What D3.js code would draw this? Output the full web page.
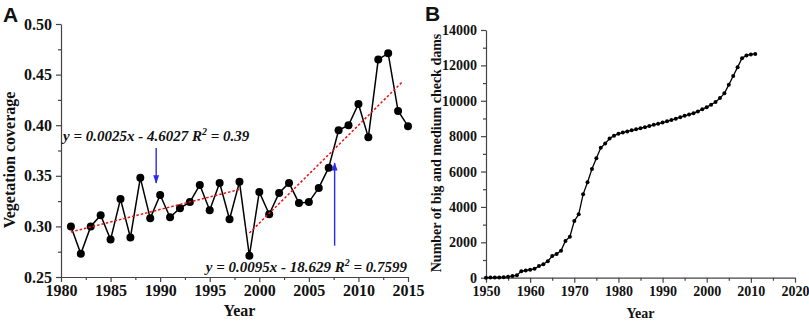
<!DOCTYPE html>
<html>
<head>
<meta charset="utf-8">
<script src="https://cdn.jsdelivr.net/npm/d3@7"></script>
<style>
  body { margin: 0; background: #fff; }
  svg text { font-family: 'Liberation Serif', 'Times New Roman', serif; font-weight: bold; fill: #111; }
</style>
</head>
<body>
<svg id="chart" width="809" height="321"></svg>
<script>
// panel A: vegetation coverage
const yearsA = d3.range(1981, 2016)
const coverage = [
  0.300, 0.273, 0.300, 0.311, 0.287, 0.327, 0.289, 0.348, 0.308, 0.331,
  0.309, 0.318, 0.324, 0.341, 0.316, 0.343, 0.307, 0.344, 0.271, 0.334,
  0.312, 0.333, 0.343, 0.323, 0.324, 0.338, 0.358, 0.395, 0.400, 0.421,
  0.388, 0.465, 0.471, 0.414, 0.399
]
const trend1 = [[1981, 0.2945], [1998, 0.3365]]
const trend2 = [[1999, 0.2935], [2014.5, 0.4435]]
const arrow1 = [[1989.6, 0.3775], [1989.6, 0.343]]
const arrow2 = [[2007.6, 0.281], [2007.6, 0.3626]]
const ticksAx = [1980, 1985, 1990, 1995, 2000, 2005, 2010, 2015]
const ticksAy = [0.25, 0.30, 0.35, 0.40, 0.45, 0.50]

// panel B: check dams
const yearsB = d3.range(1950, 2012)
const dams = [
  0, 5, 10, 15, 30, 50, 90, 140, 360, 410,
  450, 500, 660, 760, 930, 1220, 1340, 1530, 2080, 2320,
  3200, 3580, 4710, 5400, 6140, 6750, 7340, 7580, 7870, 8030,
  8130, 8200, 8270, 8330, 8390, 8450, 8510, 8570, 8640, 8700,
  8770, 8840, 8910, 8990, 9070, 9150, 9220, 9300, 9400, 9520,
  9640, 9780, 9930, 10150, 10420, 10900, 11400, 11900, 12400, 12560,
  12620, 12650
]
const ticksBx = [1950, 1960, 1970, 1980, 1990, 2000, 2010, 2020]
const ticksBy = [0, 2000, 4000, 6000, 8000, 10000, 12000, 14000]

const svg = d3.select('#chart')
const axisColor = '#444'

function styleAxis(g, fontSize) {
  g.select('.domain').attr('stroke', axisColor).attr('stroke-width', 1.2)
  g.selectAll('.tick line').attr('stroke', axisColor).attr('stroke-width', 1.2)
  g.selectAll('.tick text').attr('font-size', fontSize).attr('fill', '#111')
    .attr('font-family', "'Liberation Serif', serif").attr('font-weight', 'bold')
}
function minorAxis(axis, g) {
  g.call(axis).call((s) => s.select('.domain').remove())
  g.selectAll('.tick text').remove()
  g.selectAll('.tick line').attr('stroke', axisColor).attr('stroke-width', 1.2)
}

// ---------- A ----------
const xA = d3.scaleLinear().domain([1980, 2015]).range([61, 408])
const yA = d3.scaleLinear().domain([0.25, 0.50]).range([277, 24])

const gA = svg.append('g')
gA.append('g').attr('transform', 'translate(0,277)')
  .call((g) => minorAxis(d3.axisBottom(xA).tickValues(d3.range(1982.5, 2015, 5)).tickSize(3), g))
gA.append('g').attr('transform', 'translate(61,0)')
  .call((g) => minorAxis(d3.axisLeft(yA).tickValues(d3.range(0.275, 0.5, 0.05)).tickSize(3), g))
gA.append('g').attr('transform', 'translate(0,277)')
  .call(d3.axisBottom(xA).tickValues(ticksAx).tickFormat(d3.format('d')).tickSize(5).tickSizeOuter(0).tickPadding(3))
  .call((g) => styleAxis(g, 16))
gA.append('g').attr('transform', 'translate(61,0)')
  .call(d3.axisLeft(yA).tickValues(ticksAy).tickFormat(d3.format('.2f')).tickSize(5).tickSizeOuter(0).tickPadding(4))
  .call((g) => styleAxis(g, 16))

const lineA = d3.line().x((d) => xA(d[0])).y((d) => yA(d[1]))
const ptsA = yearsA.map((y, i) => [y, coverage[i]])
gA.append('path').attr('d', lineA(ptsA)).attr('fill', 'none').attr('stroke', '#000').attr('stroke-width', 1.5)
gA.selectAll('circle.a').data(ptsA).join('circle').attr('class', 'a')
  .attr('cx', (d) => xA(d[0])).attr('cy', (d) => yA(d[1])).attr('r', 4).attr('fill', '#000')
;[trend1, trend2].forEach((t) => {
  gA.append('path').attr('d', lineA(t)).attr('fill', 'none')
    .attr('stroke', '#f01010').attr('stroke-width', 1.5).attr('stroke-dasharray', '2.5,2')
})

svg.append('defs').append('marker').attr('id', 'head')
  .attr('viewBox', '0 0 10 10').attr('refX', 9).attr('refY', 5)
  .attr('markerWidth', 7).attr('markerHeight', 6).attr('orient', 'auto')
  .append('path').attr('d', 'M0,1.5 L10,5 L0,8.5 Z').attr('fill', '#2a2af0')
;[arrow1, arrow2].forEach((a) => {
  gA.append('path').attr('d', lineA(a)).attr('stroke', '#2a2af0').attr('stroke-width', 1.4)
    .attr('fill', 'none').attr('marker-end', 'url(#head)')
})

function equation(g, x, y, anchor, a, b) {
  const t = g.append('text').attr('x', x).attr('y', y).attr('text-anchor', anchor)
    .attr('font-size', 15).attr('font-style', 'italic')
  t.append('tspan').text(a)
  t.append('tspan').attr('dy', -6).attr('font-size', 10).text('2')
  t.append('tspan').attr('dy', 6).text(b)
}
equation(gA, 63, 141, 'start', 'y = 0.0025x - 4.6027 R', ' = 0.39')
equation(gA, 407, 272, 'end', 'y = 0.0095x - 18.629 R', ' = 0.7599')

gA.append('text').attr('x', xA(1998)).attr('y', 316).attr('text-anchor', 'middle')
  .attr('font-size', 16).text('Year')
gA.append('text').attr('transform', 'translate(15,160) rotate(-90)').attr('text-anchor', 'middle')
  .attr('font-size', 16).text('Vegetation coverage')
svg.append('text').attr('x', 3).attr('y', 22).attr('font-size', 21)
  .attr('style', "font-family: 'Liberation Sans', Arial, sans-serif; font-weight: bold").text('A')

// ---------- B ----------
const xB = d3.scaleLinear().domain([1950, 2020]).range([486, 795])
const yB = d3.scaleLinear().domain([0, 14000]).range([277.7, 30])

const gB = svg.append('g')
gB.append('g').attr('transform', 'translate(0,277.7)')
  .call((g) => minorAxis(d3.axisBottom(xB).tickValues(d3.range(1955, 2020, 10)).tickSize(3), g))
gB.append('g').attr('transform', 'translate(486,0)')
  .call((g) => minorAxis(d3.axisLeft(yB).tickValues(d3.range(1000, 14000, 2000)).tickSize(3), g))
gB.append('g').attr('transform', 'translate(0,277.7)')
  .call(d3.axisBottom(xB).tickValues(ticksBx).tickFormat(d3.format('d')).tickSize(5).tickSizeOuter(0).tickPadding(3))
  .call((g) => styleAxis(g, 14))
gB.append('g').attr('transform', 'translate(486,0)')
  .call(d3.axisLeft(yB).tickValues(ticksBy).tickFormat(d3.format('d')).tickSize(5).tickSizeOuter(0).tickPadding(4))
  .call((g) => styleAxis(g, 14))

const lineB = d3.line().x((d) => xB(d[0])).y((d) => yB(d[1]))
const ptsB = yearsB.map((y, i) => [y, dams[i]])
gB.append('path').attr('d', lineB(ptsB)).attr('fill', 'none').attr('stroke', '#000').attr('stroke-width', 1.3)
gB.selectAll('circle.b').data(ptsB).join('circle').attr('class', 'b')
  .attr('cx', (d) => xB(d[0])).attr('cy', (d) => yB(d[1])).attr('r', 2).attr('fill', '#000')

gB.append('text').attr('x', xB(1985)).attr('y', 318).attr('text-anchor', 'middle')
  .attr('font-size', 14).text('Year')
gB.append('text').attr('transform', 'translate(441,153) rotate(-90)').attr('text-anchor', 'middle')
  .attr('font-size', 14).text('Number of big and medium check dams')
svg.append('text').attr('x', 425).attr('y', 21).attr('font-size', 21)
  .attr('style', "font-family: 'Liberation Sans', Arial, sans-serif; font-weight: bold").text('B')
</script>
</body>
</html>
